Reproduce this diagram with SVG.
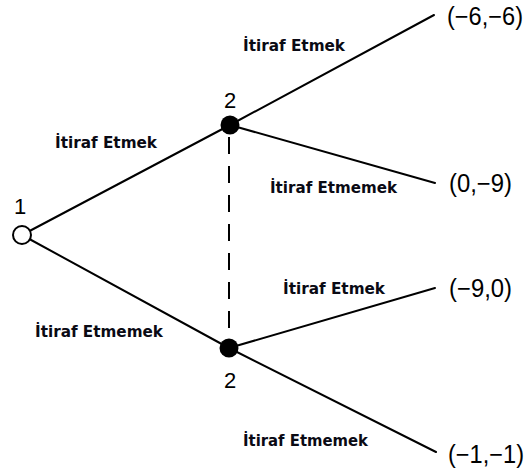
<svg xmlns="http://www.w3.org/2000/svg" width="529" height="475" viewBox="0 0 529 475">
<style>
.edge{stroke:#000;stroke-width:2;fill:none;stroke-linecap:round}
.info{stroke:#000;stroke-width:2;fill:none;stroke-dasharray:17 12}
.lbl{font-family:"DejaVu Sans",Verdana,sans-serif;font-weight:bold;font-size:16px;fill:#0a0a14}
.num{font-family:"Liberation Sans",Arial,sans-serif;font-size:22px;fill:#000}
.pay{font-family:"Liberation Sans",Arial,sans-serif;font-size:25px;fill:#000}
</style>
<rect width="529" height="475" fill="#fff"/>
<g id="connectors">
<line class="edge" x1="22" y1="235" x2="230" y2="125"/>
<line class="edge" x1="22" y1="235" x2="229" y2="348"/>
<line class="edge" x1="230" y1="125" x2="434" y2="15"/>
<line class="edge" x1="230" y1="125" x2="435" y2="183"/>
<line class="edge" x1="229" y1="348" x2="435" y2="288"/>
<line class="edge" x1="229" y1="348" x2="436" y2="452"/>
<line class="info" x1="229" y1="137" x2="229" y2="338"/>
<text class="lbl" x="55" y="148" textLength="102" lengthAdjust="spacingAndGlyphs">İtiraf Etmek</text>
<text class="lbl" x="35" y="337" textLength="128" lengthAdjust="spacingAndGlyphs">İtiraf Etmemek</text>
<text class="lbl" x="243" y="51" textLength="102" lengthAdjust="spacingAndGlyphs">İtiraf Etmek</text>
<text class="lbl" x="270" y="193" textLength="127" lengthAdjust="spacingAndGlyphs">İtiraf Etmemek</text>
<text class="lbl" x="283" y="294" textLength="102" lengthAdjust="spacingAndGlyphs">İtiraf Etmek</text>
<text class="lbl" x="243" y="446" textLength="125" lengthAdjust="spacingAndGlyphs">İtiraf Etmemek</text>
</g>
<g id="node1">
<circle cx="22" cy="235" r="9" fill="#fff" stroke="#000" stroke-width="2"/>
<text class="num" x="20" y="214" text-anchor="middle">1</text>
</g>
<g id="node2a">
<circle cx="230" cy="125" r="9.5" fill="#000"/>
<text class="num" x="230" y="108" text-anchor="middle">2</text>
</g>
<g id="node2b">
<circle cx="229" cy="348" r="9.5" fill="#000"/>
<text class="num" x="230" y="388" text-anchor="middle">2</text>
</g>
<g id="payoff1"><text class="pay" x="447" y="25" textLength="76" lengthAdjust="spacingAndGlyphs">(−6,−6)</text></g>
<g id="payoff2"><text class="pay" x="449" y="192" textLength="63" lengthAdjust="spacingAndGlyphs">(0,−9)</text></g>
<g id="payoff3"><text class="pay" x="449" y="297" textLength="63" lengthAdjust="spacingAndGlyphs">(−9,0)</text></g>
<g id="payoff4"><text class="pay" x="448" y="463" textLength="76" lengthAdjust="spacingAndGlyphs">(−1,−1)</text></g>
</svg>
